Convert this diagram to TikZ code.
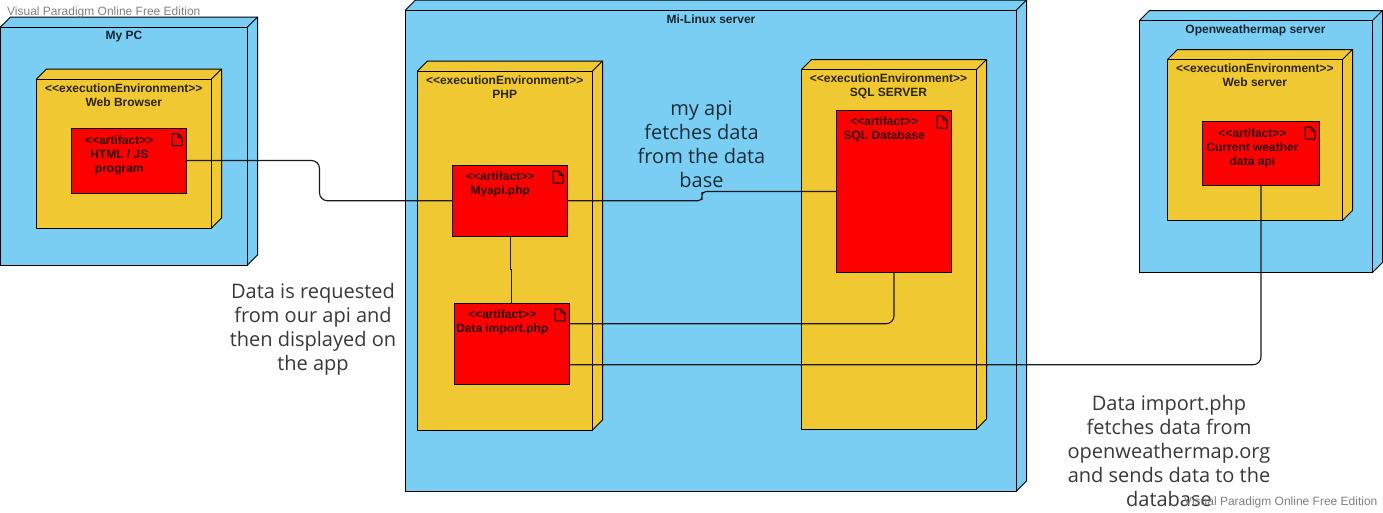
\documentclass[tikz,border=0pt]{standalone}
\usepackage{fontspec}
\setmainfont{Liberation Sans}
\newfontfamily\notefont{Open Sans}
\definecolor{nodeblue}{HTML}{7ACEF4}
\definecolor{envyellow}{HTML}{EFC832}
\definecolor{artred}{HTML}{FF0000}
\tikzset{
  cube/.style={draw=black,line width=1pt,inner sep=0pt,outer sep=0pt,anchor=north west},
  artbox/.style={cube,fill=artred},
  wire/.style={draw=black!90,line width=1.15pt,rounded corners=8pt},
  lbl/.style={font=\fontsize{12}{14}\selectfont\bfseries,align=center,inner sep=0pt,text=black,text opacity=.82},
  note/.style={font=\notefont\fontsize{20}{24}\selectfont,align=center,inner sep=0pt,text=black,text opacity=.78},
  wmark/.style={font=\fontsize{12}{14}\selectfont,inner sep=0pt,text=black!50,anchor=west}
}
% #1 name, #2 colour, #3 left, #4 top, #5 right, #6 bottom
\newcommand{\cubebox}[6]{%
  \draw[line width=1pt,fill=#2] (#3,#4) -- (#3+10,#4-10) -- (#5+10,#4-10) -- (#5+10,#6-10) -- (#5,#6) -- cycle;
  \node[cube,fill=#2,minimum width=#5pt-#3pt,minimum height=#6pt-#4pt] (#1) at (#3,#4) {};
  \draw[line width=1pt] (#5,#4) -- (#5+10,#4-10);
}
% #1 name, #2 left, #3 top, #4 right, #5 bottom
\newcommand{\artbox}[5]{%
  \node[artbox,minimum width=#4pt-#2pt,minimum height=#5pt-#3pt] (#1) at (#2,#3) {};
  \draw[line width=1pt,line join=round] (#4-14.5,#3+5.5) -- (#4-8.5,#3+5.5) -- (#4-4.5,#3+9.5) -- (#4-4.5,#3+17.5) -- (#4-14.5,#3+17.5) -- cycle
    (#4-8.5,#3+5.5) -- (#4-8.5,#3+9.5) -- (#4-4.5,#3+9.5);
}
\begin{document}
\begin{tikzpicture}[x=1pt,y=-1pt]
\useasboundingbox (0,0) rectangle (1383,512);
\fill[white] (0,0) rectangle (1383,512);

\cubebox{pc}{nodeblue}{0.5}{27}{247.5}{265}
\cubebox{linux}{nodeblue}{405.5}{10}{1016.5}{491}
\cubebox{owm}{nodeblue}{1139.5}{20.5}{1372.5}{272.5}
\cubebox{browser}{envyellow}{36.5}{79}{211.5}{228}
\cubebox{php}{envyellow}{417.5}{71}{592.5}{430}
\cubebox{sqlsrv}{envyellow}{801.5}{69.5}{976.5}{429}
\cubebox{websrv}{envyellow}{1167.5}{59.5}{1342.5}{220.5}

\artbox{html}{71.5}{128}{186.5}{193}
\artbox{myapi}{452.5}{165.5}{567.5}{236}
\artbox{dimport}{454.5}{303.5}{569.5}{384}
\artbox{sqldb}{836.5}{110.5}{951.5}{272.5}
\artbox{weather}{1202.5}{121.5}{1319.5}{185.5}

\coordinate (w1) at (319.5,181);
\coordinate (w2) at (702,196);
\coordinate (w3) at (510.5,269.5);
\coordinate (w4) at (511.7,269.5);

\draw[wire] (html.east) -| (w1) |- (myapi.west);
\draw[wire,rounded corners=4pt] (myapi.east) -| (w2) |- (sqldb.west);
\draw[wire,rounded corners=0pt] (myapi.south -| w3) -- (w3) -- (w4) -- (dimport.north -| w4);
\draw[wire] ([yshift=20pt]dimport.east) -| (sqldb.south);
\draw[wire] ([yshift=-21pt]dimport.east) -| (weather.south);

\node[lbl] (tpc) at (124,36.5) {My PC};
\node[lbl] (tlinux) at (711,19.5) {Mi-Linux server};
\node[lbl] (towm) at (1255.5,30) {Openweathermap server};
\node[lbl] (tbrowser) at (123.8,95.5) {<{}<executionEnvironment>{}>\\Web Browser};
\node[lbl] (tphp) at (504.7,87.5) {<{}<executionEnvironment>{}>\\PHP};
\node[lbl] (tsqlsrv) at (888.5,86) {<{}<executionEnvironment>{}>\\SQL SERVER};
\node[lbl] (twebsrv) at (1254.8,75.5) {<{}<executionEnvironment>{}>\\Web server};
\node[lbl] (thtml) at (119.3,155.5) {<{}<artifact>{}>\\HTML / JS\\program};
\node[lbl] (tmyapi) at (500.3,184.5) {<{}<artifact>{}>\\Myapi.php};
\node[lbl] (tdimport) at (502.3,322.7) {<{}<artifact>{}>\\Data import.php};
\node[lbl] (tsqldb) at (884.3,129.5) {<{}<artifact>{}>\\SQL Database};
\node[lbl] (tweather) at (1252.5,148) {<{}<artifact>{}>\\Current weather\\data api};

\node[note] (n1) at (701.5,144) {my api\\fetches data\\from the data\\base};
\node[note] (n2) at (313,329) {Data is requested\\from our api and\\then displayed on\\the app};
\node[note] (n3) at (1169,451) {Data import.php\\fetches data from\\openweathermap.org\\and sends data to the\\database};

\node[wmark] (m1) at (7,12) {Visual Paradigm Online Free Edition};
\node[wmark] (m2) at (1184,502.5) {Visual Paradigm Online Free Edition};
\end{tikzpicture}
\end{document}
